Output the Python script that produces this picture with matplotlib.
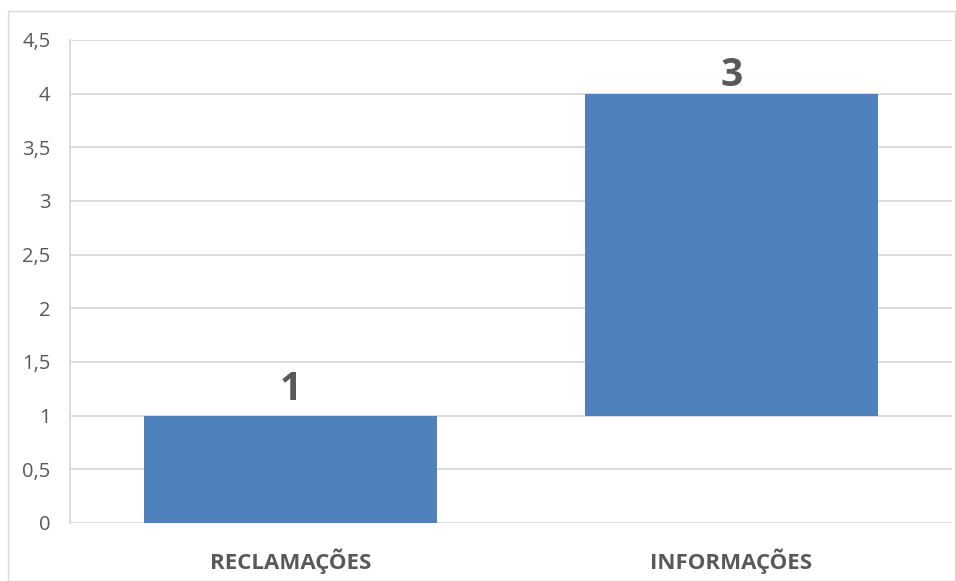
import matplotlib
matplotlib.use("Agg")
import matplotlib.pyplot as plt
import matplotlib.patches as patches

categories = ["RECLAMAÇÕES", "INFORMAÇÕES"]
values = [1, 3]
bases = [0, 1]
yticks = [0, 0.5, 1, 1.5, 2, 2.5, 3, 3.5, 4, 4.5]

plt.rcParams["font.family"] = ["Open Sans", "DejaVu Sans"]
text_color = "#595959"
bar_color = "#4f81bd"

fig = plt.figure(figsize=(9.56, 5.81), dpi=100)
ax = fig.add_axes([70 / 956, 1 - 523 / 581, 882 / 956, 483 / 581])

# moldura externa
fig.patches.append(patches.Rectangle(
    (8 / 956, 0), 947 / 956, 1 - 11 / 581, transform=fig.transFigure,
    fill=False, edgecolor="#d9d9d9", linewidth=1))

x = range(len(categories))
ax.bar(x, values, bottom=bases, width=0.665, color=bar_color, zorder=3)

# deslocamento vertical dos rótulos (pontos)
label_offsets = [5, -1]
for i, (b, v) in enumerate(zip(bases, values)):
    ax.annotate(str(v), (i, b + v), xytext=(0, label_offsets[i]),
                textcoords="offset points", ha="center", va="bottom",
                fontsize=28, fontweight="bold", color=text_color)

ax.set_xlim(-0.5, 1.5)
ax.set_ylim(0, 4.5)
ax.set_yticks(yticks)
ax.set_yticklabels([f"{t:g}".replace(".", ",") for t in yticks])
ax.set_xticks(list(x))
ax.set_xticklabels(categories, fontweight="bold")
ax.tick_params(axis="y", length=0, labelsize=14.5, labelcolor=text_color, pad=14)
ax.tick_params(axis="x", length=0, labelsize=16, labelcolor=text_color, pad=18)
ax.yaxis.grid(True, color="#d9d9d9", linewidth=1.3, zorder=0)
ax.set_axisbelow(True)
for s in ["top", "right", "bottom"]:
    ax.spines[s].set_visible(False)
ax.spines["left"].set_color("#d9d9d9")
ax.spines["left"].set_linewidth(1.3)

fig.savefig("out.png", dpi=100)
